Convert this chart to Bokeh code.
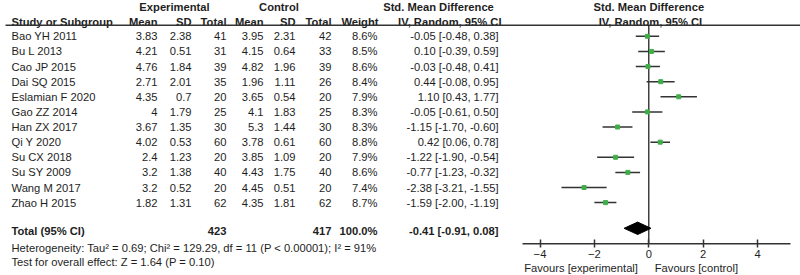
from bokeh.plotting import figure
from bokeh.models import ColumnDataSource, Range1d, LinearAxis, FixedTicker
from bokeh.core.properties import value
from bokeh.embed import file_html
from bokeh.resources import INLINE

# ---------------- data ----------------
studies = ["Bao YH 2011", "Bu L 2013", "Cao JP 2015", "Dai SQ 2015", "Eslamian F 2020",
           "Gao ZZ 2014", "Han ZX 2017", "Qi Y 2020", "Su CX 2018", "Su SY 2009",
           "Wang M 2017", "Zhao H 2015"]
exp_mean = [3.83, 4.21, 4.76, 2.71, 4.35, 4, 3.67, 4.02, 2.4, 3.2, 3.2, 1.82]
exp_sd = [2.38, 0.51, 1.84, 2.01, 0.7, 1.79, 1.35, 0.53, 1.23, 1.38, 0.52, 1.31]
exp_n = [41, 31, 39, 35, 20, 25, 30, 60, 20, 40, 20, 62]
ctl_mean = [3.95, 4.15, 4.82, 1.96, 3.65, 4.1, 5.3, 3.78, 3.85, 4.43, 4.45, 4.35]
ctl_sd = [2.31, 0.64, 1.96, 1.11, 0.54, 1.83, 1.44, 0.61, 1.09, 1.75, 0.51, 1.81]
ctl_n = [42, 33, 39, 26, 20, 25, 30, 60, 20, 40, 20, 62]
weight = [8.6, 8.5, 8.6, 8.4, 7.9, 8.3, 8.3, 8.8, 7.9, 8.6, 7.4, 8.7]
smd = [-0.05, 0.10, -0.03, 0.44, 1.10, -0.05, -1.15, 0.42, -1.22, -0.77, -2.38, -1.59]
ci_lo = [-0.48, -0.39, -0.48, -0.08, 0.43, -0.61, -1.70, 0.06, -1.90, -1.23, -3.21, -2.00]
ci_hi = [0.38, 0.59, 0.41, 0.95, 1.77, 0.50, -0.60, 0.78, -0.54, -0.32, -1.55, -1.19]

total_exp_n = 423
total_ctl_n = 417
total_weight = 100.0
total_smd = -0.41
total_lo = -0.91
total_hi = 0.08

heterogeneity = "Heterogeneity: Tau\u00b2 = 0.69; Chi\u00b2 = 129.29, df = 11 (P < 0.00001); I\u00b2 = 91%"
overall = "Test for overall effect: Z = 1.64 (P = 0.10)"
axis_ticks = [-4, -2, 0, 2, 4]
favour_left = "Favours [experimental]"
favour_right = "Favours [control]"

# ---------------- style / layout ----------------
FONT_NAME = "Liberation Sans"
FONT = value(FONT_NAME)
TXT = "#1e1e1e"
FS = "11.2px"
LINE = "#333333"
GREEN = "#3fae49"

W, H = 800, 275
ROW0, ROWSTEP = 35.8, 15.12
ys = [ROW0 + i * ROWSTEP for i in range(len(studies))]
Y_H1, Y_H2, Y_RULE = 6.0, 21.0, 24.7
Y_TOTAL, Y_HET, Y_TEST = 230.0, 247.0, 261.0
Y_AXIS = 243.3
ZERO_PX, UNIT_PX = 648.3, 27.2          # forest panel placement on the canvas
AX_PX0, AX_PX1 = 522, 790               # extent of the forest axis line


def px_to_smd(px):
    return (px - ZERO_PX) / UNIT_PX


def fmt(v):
    return f"{v:g}"


src = ColumnDataSource(dict(
    y=ys,
    study=studies,
    em=[fmt(v) for v in exp_mean],
    es=[fmt(v) for v in exp_sd],
    en=[str(v) for v in exp_n],
    cm=[fmt(v) for v in ctl_mean],
    cs=[fmt(v) for v in ctl_sd],
    cn=[str(v) for v in ctl_n],
    w=[f"{v:.1f}%" for v in weight],
    ci=[f"{s:.2f} [{l:.2f}, {h:.2f}]" for s, l, h in zip(smd, ci_lo, ci_hi)],
    smd=smd, lo=ci_lo, hi=ci_hi,
))

p = figure(width=W, height=H, x_range=Range1d(0, W), y_range=Range1d(H, 0),
           output_backend="svg", toolbar_location=None,
           x_axis_location=None, y_axis_location=None, min_border=0,
           outline_line_color=None)
p.grid.grid_line_color = None
p.extra_x_ranges = {"smd": Range1d(px_to_smd(0), px_to_smd(W))}


def txt(x, y, t, align="left", bold=False, rng="default"):
    p.text(x=[x], y=[y], text=[t], text_font=FONT, text_font_size=FS,
           text_color=TXT, text_align=align, text_baseline="middle",
           text_font_style="bold" if bold else "normal", x_range_name=rng)


# header rows
txt(174, Y_H1, "Experimental", "center", True)
txt(278.5, Y_H1, "Control", "center", True)
txt(438, Y_H1, "Std. Mean Difference", "center", True)
txt(0.0, Y_H1, "Std. Mean Difference", "center", True, "smd")
txt(11, Y_H2, "Study or Subgroup", "left", True)
for x, t in [(157, "Mean"), (191, "SD"), (226, "Total"), (263, "Mean"), (295, "SD"),
             (331, "Total"), (378, "Weight"), (501, "IV, Random, 95% CI")]:
    txt(x, Y_H2, t, "right", True)
txt(0.06, Y_H2, "IV, Random, 95% CI", "center", True, "smd")
p.segment(x0=[5], y0=[Y_RULE], x1=[W], y1=[Y_RULE], line_color=LINE, line_width=1.5)

# study rows
p.text(x=11, y="y", text="study", source=src, text_font=FONT, text_font_size=FS,
       text_color=TXT, text_align="left", text_baseline="middle")
for x, col in [(157, "em"), (191, "es"), (226, "en"), (263, "cm"), (295, "cs"),
               (331, "cn"), (377, "w"), (498, "ci")]:
    p.text(x=x, y="y", text=col, source=src, text_font=FONT, text_font_size=FS,
           text_color=TXT, text_align="right", text_baseline="middle")

# total rows
txt(11, Y_TOTAL, "Total (95% CI)", "left", True)
txt(226, Y_TOTAL, str(total_exp_n), "right", True)
txt(331, Y_TOTAL, str(total_ctl_n), "right", True)
txt(377, Y_TOTAL, f"{total_weight:.1f}%", "right", True)
txt(498, Y_TOTAL, f"{total_smd:.2f} [{total_lo:.2f}, {total_hi:.2f}]", "right", True)
txt(11, Y_HET, heterogeneity)
txt(11, Y_TEST, overall)

# ---------------- forest panel ----------------
p.segment(x0=[0], y0=[Y_RULE], x1=[0], y1=[Y_AXIS], line_color="#111111",
          line_width=1.2, x_range_name="smd")
p.segment(x0="lo", y0="y", x1="hi", y1="y", source=src, line_color=LINE,
          line_width=1.5, x_range_name="smd")
p.scatter(x="smd", y="y", source=src, marker="square", size=4,
          fill_color=GREEN, line_color=GREEN, x_range_name="smd")
p.patch(x=[total_lo, total_smd, total_hi, total_smd],
        y=[Y_TOTAL - 2.2, Y_TOTAL - 8.4, Y_TOTAL - 2.2, Y_TOTAL + 4.0],
        fill_color="black", line_color="black", x_range_name="smd")

# axis line (limited extent), ticks + labels from a real axis at a fixed location
p.segment(x0=[AX_PX0], y0=[Y_AXIS], x1=[AX_PX1], y1=[Y_AXIS], line_color=LINE,
          line_width=1.5)
ax = LinearAxis(x_range_name="smd", fixed_location=Y_AXIS,
                ticker=FixedTicker(ticks=axis_ticks),
                major_tick_in=4, major_tick_out=4,
                minor_tick_line_color=None, axis_line_color=None,
                major_tick_line_color=LINE, major_tick_line_width=1.5,
                major_label_text_font=FONT_NAME, major_label_text_font_size=FS,
                major_label_text_color=TXT, major_label_standoff=2)
p.add_layout(ax, "below")

fav_pos = [-2.49, 1.75]
ax2 = LinearAxis(x_range_name="smd", fixed_location=Y_AXIS,
                 ticker=FixedTicker(ticks=fav_pos),
                 major_label_overrides={fav_pos[0]: favour_left, fav_pos[1]: favour_right},
                 major_tick_in=0, major_tick_out=0, minor_tick_line_color=None,
                 major_tick_line_color=None, axis_line_color=None,
                 major_label_text_font=FONT_NAME, major_label_text_font_size=FS,
                 major_label_text_color=TXT, major_label_standoff=18)
p.add_layout(ax2, "below")

open("out.html", "w").write(file_html(p, INLINE))
